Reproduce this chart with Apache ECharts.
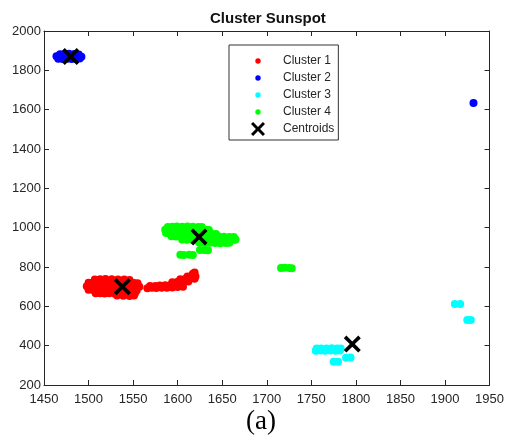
<!DOCTYPE html>
<html>
<head>
<meta charset="utf-8">
<script src="https://cdn.jsdelivr.net/npm/echarts@6/dist/echarts.min.js"></script>
<style>
  html, body { margin: 0; padding: 0; background: #fff; }
  #main { width: 507px; height: 437px; }
</style>
</head>
<body>
<div id="main"></div>
<script>
// 数据：各簇点 [x, y]
const cluster1 = [
  [1507,736],[1513,738],[1519,739],[1526,738],[1533,737],[1540,736],[1546,734],
  [1500,720],[1505,721],[1510,722],[1515,722],[1521,721],[1527,722],[1533,721],[1539,720],[1545,720],[1551,719],[1555,717],
  [1498,702],[1503,702],[1508,701],[1513,700],[1518,701],[1524,700],[1530,701],[1536,700],[1542,699],[1548,700],[1553,701],[1557,699],
  [1500,684],[1505,683],[1510,682],[1515,683],[1520,682],[1526,681],[1532,682],[1538,681],[1544,682],[1550,680],[1554,681],
  [1508,667],[1513,666],[1518,665],[1523,666],[1529,665],[1535,664],[1541,665],[1547,663],[1552,665],
  [1532,655],[1539,654],[1546,653],[1551,655],
  [1566,692],[1571,694],[1576,693],[1582,695],[1588,694],[1594,696],[1600,698],[1606,700],
  [1569,704],[1575,703],[1580,706],[1586,707],[1592,708],[1598,712],[1604,715],
  [1594,722],[1600,725],[1606,728],[1612,726],
  [1603,738],[1609,740],[1614,742],[1619,740],
  [1611,752],[1616,755],[1620,752],
  [1617,766],[1619,772]
]
const cluster2 = [
  [1468,1882],[1473,1883],[1478,1884],[1484,1883],[1489,1881],
  [1464,1871],[1469,1870],[1474,1871],[1479,1869],[1484,1870],[1489,1871],[1492,1869],
  [1466,1859],[1471,1858],[1476,1859],[1481,1857],[1486,1858],[1490,1860],
  [1932,1634]
]
const cluster3 = [
  [1756,385],[1761,386],[1767,385],[1773,387],[1779,386],[1783,385],
  [1755,374],[1760,375],[1765,374],[1771,376],[1777,374],[1782,375],
  [1775,318],[1780,318],
  [1789,339],[1794,340],
  [1911,612],[1917,612],
  [1925,531],[1929,531]
]
const cluster4 = [
  [1589,1004],[1594,1005],[1599,1006],[1605,1005],[1611,1006],[1617,1005],[1623,1004],[1627,1003],
  [1586,990],[1591,991],[1596,990],[1601,992],[1607,991],[1613,990],[1619,991],[1625,990],[1631,989],[1635,988],
  [1587,973],[1592,972],[1597,974],[1602,973],[1608,972],[1614,973],[1620,972],[1626,971],[1632,970],[1638,969],[1643,968],
  [1593,956],[1598,955],[1604,956],[1610,955],[1616,954],[1622,955],[1628,956],[1634,955],[1640,954],[1646,955],[1652,954],[1658,953],[1663,952],
  [1605,940],[1610,939],[1616,938],[1622,939],[1628,938],[1634,937],[1640,938],[1646,939],[1652,938],[1658,937],[1663,938],[1665,940],
  [1624,924],[1630,922],[1636,923],[1642,922],[1648,921],[1654,922],[1658,923],
  [1625,886],[1630,887],[1634,885],
  [1603,862],[1607,861],[1613,862],[1617,861],
  [1716,795],[1720,796],[1725,795],[1728,794]
]
const centroids = [[1538,700],[1480,1870],[1796,408],[1624,953]]
const seriesNames = ['Cluster 1', 'Cluster 2', 'Cluster 3', 'Cluster 4', 'Centroids']
const seriesColors = ['#ff0000', '#0000ff', '#00ffff', '#00ff00', '#000000']

const dotIcon = 'path://M0,0 M14,14 M7,4.3 A2.7,2.7 0 1 1 7,9.7 A2.7,2.7 0 1 1 7,4.3 Z'
const crossIcon = 'path://M3,0 L10,7 L17,0 L20,3 L13,10 L20,17 L17,20 L10,13 L3,20 L0,17 L7,10 L0,3 Z'

const font = 'Liberation Sans, Arial, sans-serif'
const axisColor = '#262626'

const chart = echarts.init(document.getElementById('main'))

const clusterSeries = [cluster1, cluster2, cluster3, cluster4].map((d, i) => ({
  name: seriesNames[i],
  type: 'scatter',
  data: d,
  symbol: 'circle',
  symbolSize: 8,
  itemStyle: { color: seriesColors[i], opacity: 1 },
  emphasis: { disabled: true }
}))

const plain = v => String(v)

const option = {
  animation: false,
  title: {
    text: 'Cluster Sunspot',
    left: 210,
    top: 11,
    padding: 0,
    textStyle: { fontFamily: font, fontSize: 15, fontWeight: 'bold', color: '#111' }
  },
  grid: { left: 44, right: 13, top: 31, bottom: 52 },
  legend: {
    orient: 'vertical',
    left: 229,
    top: 45,
    padding: [9, 4, 4, 22],
    itemWidth: 40,
    itemHeight: 14,
    itemGap: 3,
    borderColor: '#333',
    borderWidth: 1,
    borderRadius: 0,
    backgroundColor: '#fff',
    textStyle: { fontFamily: font, fontSize: 12, color: axisColor },
    data: seriesNames.map((n, i) => ({ name: n, icon: i < 4 ? dotIcon : crossIcon }))
  },
  xAxis: [
    {
      type: 'value', min: 1450, max: 1950, interval: 50, position: 'bottom',
      axisLine: { show: true, lineStyle: { color: axisColor } },
      axisTick: { inside: true, length: 5, lineStyle: { color: axisColor } },
      axisLabel: { fontFamily: font, fontSize: 13, color: axisColor, margin: 8, formatter: plain },
      splitLine: { show: false }
    },
    {
      type: 'value', min: 1450, max: 1950, interval: 50, position: 'top',
      axisLine: { show: true, onZero: false, lineStyle: { color: axisColor } },
      axisTick: { inside: true, length: 5, lineStyle: { color: axisColor } },
      axisLabel: { show: false },
      splitLine: { show: false }
    }
  ],
  yAxis: [
    {
      type: 'value', min: 200, max: 2000, interval: 200, position: 'left',
      axisLine: { show: true, lineStyle: { color: axisColor } },
      axisTick: { inside: true, length: 5, lineStyle: { color: axisColor } },
      axisLabel: { fontFamily: font, fontSize: 13, color: axisColor, margin: 3, formatter: plain },
      splitLine: { show: false }
    },
    {
      type: 'value', min: 200, max: 2000, interval: 200, position: 'right',
      axisLine: { show: true, onZero: false, lineStyle: { color: axisColor } },
      axisTick: { inside: true, length: 5, lineStyle: { color: axisColor } },
      axisLabel: { show: false },
      splitLine: { show: false }
    }
  ],
  series: clusterSeries.concat([{
    name: 'Centroids',
    type: 'scatter',
    data: centroids,
    symbol: crossIcon,
    symbolSize: 17,
    z: 5,
    itemStyle: { color: '#000', opacity: 1 },
    emphasis: { disabled: true }
  }]),
  graphic: [{
    type: 'text',
    left: 246,
    top: 408,
    style: { text: '(a)', fontFamily: 'Liberation Serif, Times New Roman, serif', fontSize: 27, fill: '#000' }
  }]
}

chart.setOption(option)
</script>
</body>
</html>
